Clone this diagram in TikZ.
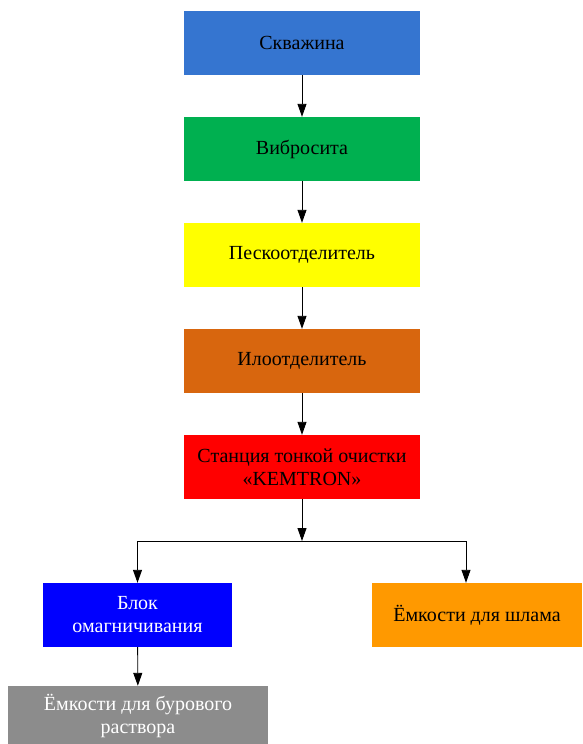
\documentclass[tikz,border=0pt]{standalone}
\usepackage{fontspec}
\setmainfont{Liberation Serif}
\usetikzlibrary{arrows.meta}
\definecolor{cblue}{HTML}{3575D0}
\definecolor{cgreen}{HTML}{00B050}
\definecolor{cyellow}{HTML}{FFFF00}
\definecolor{cbrown}{HTML}{D8660E}
\definecolor{cred}{HTML}{FF0000}
\definecolor{cdeep}{HTML}{0000FF}
\definecolor{corange}{HTML}{FF9900}
\definecolor{cgray}{HTML}{8C8C8C}
\tikzset{
  blk/.style={rectangle, inner sep=0pt, align=center, font=\fontsize{20}{23}\selectfont},
  arr/.style={-{Triangle[length=13pt,width=9pt]}, line width=0.9pt}
}
\begin{document}
\begin{tikzpicture}[x=1pt,y=-1pt]
\useasboundingbox (0,0) rectangle (582,744);
\node[blk, fill=cblue, minimum width=236pt, minimum height=64pt] (a) at (302,43) {Скважина};
\node[blk, fill=cgreen, minimum width=236pt, minimum height=64pt] (b) at (302,149) {Вибросита};
\node[blk, fill=cyellow, minimum width=236pt, minimum height=64pt] (c) at (302,255) {Пескоотделитель};
\node[blk, fill=cbrown, minimum width=236pt, minimum height=64pt] (d) at (302,361) {Илоотделитель};
\node[blk, fill=cred, minimum width=236pt, minimum height=64pt] (e) at (302,467) {Станция тонкой очистки\\«KEMTRON»};
\node[blk, fill=cdeep, text=white, minimum width=189pt, minimum height=64pt] (f) at (137.5,615) {Блок\\омагничивания};
\node[blk, fill=corange, minimum width=210pt, minimum height=64pt] (g) at (477,615) {Ёмкости для шлама};
\node[blk, fill=cgray, text=white, minimum width=260pt, minimum height=60pt] (h) at (138,716) {Ёмкости для бурового\\раствора};
\coordinate (j) at (302,541);
\coordinate (jl) at (137.5,541);
\coordinate (jr) at (466,541);
\draw[arr] (a) -- (b);
\draw[arr] (b) -- (c);
\draw[arr] (c) -- (d);
\draw[arr] (d) -- (e);
\draw[arr] (e) -- (j);
\draw[line width=0.9pt] (jl) -- (jr);
\draw[arr] (jl) -- (jl |- f.north);
\draw[arr] (jr) -- (jr |- g.north);
\draw[arr] (f) -- (h);
\end{tikzpicture}
\end{document}
